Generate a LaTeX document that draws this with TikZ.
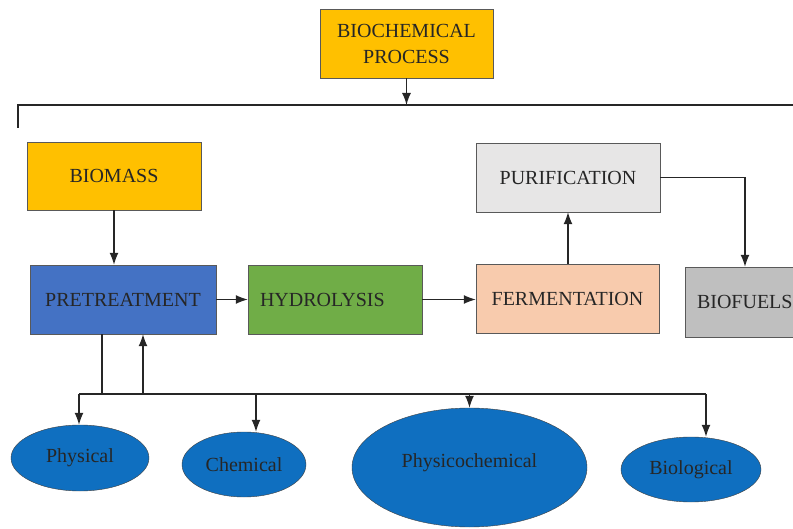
\documentclass[tikz,border=0pt]{standalone}
\usepackage{fontspec}
\setmainfont{Liberation Serif}
\usepackage{tikz}
\usetikzlibrary{shapes.geometric, positioning, arrows.meta, calc}

\definecolor{gold}{HTML}{FFC000}
\definecolor{steelblue}{HTML}{4472C4}
\definecolor{leafgreen}{HTML}{70AD47}
\definecolor{peach}{HTML}{F8CBAD}
\definecolor{lightgrey}{HTML}{E7E6E6}
\definecolor{midgrey}{HTML}{BFBFBF}
\definecolor{ovalblue}{HTML}{0F6FC0}

\begin{document}
\begin{tikzpicture}[
        x=1pt, y=-1pt,
        stage/.style={draw=black!65, rectangle, minimum height=69pt, align=center, inner sep=2mm, font=\fontsize{20}{24}\selectfont, text=black!85},
        method/.style={draw=black!75, ellipse, inner sep=0pt, fill=ovalblue, font=\fontsize{20}{24}\selectfont, text=black!85},
        arrow/.style={-{Latex[length=12pt, width=9pt]}, line width=1.3pt, draw=black!85},
        link/.style={line width=1.3pt, draw=black!85}
      ]
      \useasboundingbox (0,0) rectangle (793,529);

      % top node
      \node[stage, fill=gold, minimum width=173pt] (process) at (406.5,43.5) {BIOCHEMICAL\\[2pt]PROCESS};
      \coordinate (busmid) at (406.5,105);
      \coordinate (busleft) at (18,105);
      \coordinate (busright) at (800,105);
      \coordinate (busdrop) at (18,128);

      % main chain
      \node[stage, fill=gold, minimum width=174pt, minimum height=68pt] (biomass) at (114,176) {BIOMASS};
      \node[stage, fill=steelblue, minimum width=186pt] (pretreat) at (123,299.5) {PRETREATMENT};
      \node[stage, fill=leafgreen, text width=150pt, inner xsep=12pt, align=left] (hydro) at (335,299.5) {HYDROLYSIS};
      \node[stage, fill=peach, minimum width=183pt] (ferment) at (567.5,298.5) {FERMENTATION};
      \node[stage, fill=lightgrey, minimum width=184pt] (purif) at (568,177.5) {PURIFICATION};
      \node[stage, fill=midgrey, text width=150pt, inner xsep=12pt, align=left, minimum height=70pt] (biofuels) at (772,302) {BIOFUELS};

      % pretreatment methods
      \node[method, minimum width=138pt, minimum height=66pt] (physical) at (80,458) {Physical};
      \node[method, minimum width=124pt, minimum height=65pt] (chemical) at (244,464.5) {Chemical};
      \node[method, minimum width=235pt, minimum height=119pt] (physchem) at (469.5,467.5) {\raisebox{14pt}{Physicochemical}};
      \node[method, minimum width=140pt, minimum height=65pt] (biological) at (691,469.5) {Biological};

      % bus below pretreatment
      \coordinate (outdown) at (102,394);
      \coordinate (backup) at (143,394);
      \coordinate (tapone) at (79,394);
      \coordinate (taptwo) at (256,394);
      \coordinate (tapthree) at (469.5,394);
      \coordinate (tapfour) at (706,394);

      % edges
      \draw[arrow] (process.south) -- (busmid);
      \draw[link] (busright) -- (busleft) -- (busdrop);
      \draw[arrow] (biomass.south) -- (biomass.south |- pretreat.north);
      \draw[arrow] (pretreat.east) -- (hydro.west);
      \draw[arrow] (hydro.east) -- (hydro.east -| ferment.west);
      \draw[arrow] (ferment.north -| purif.south) -- (purif.south);
      \draw[arrow] (purif.east) -| (biofuels.north -| 745,0);
      \draw[link] (pretreat.south -| outdown) -- (outdown);
      \draw[arrow] (backup) -- (pretreat.south -| backup);
      \draw[link] (tapone) -- (tapfour);
      \draw[arrow] (tapone) -- (tapone |- physical.north);
      \draw[arrow] (taptwo) -- (taptwo |- chemical.north);
      \draw[arrow] (tapthree) -- (physchem.north);
      \draw[arrow] (tapfour) -- (tapfour |- biological.north);

\end{tikzpicture}
\end{document}
